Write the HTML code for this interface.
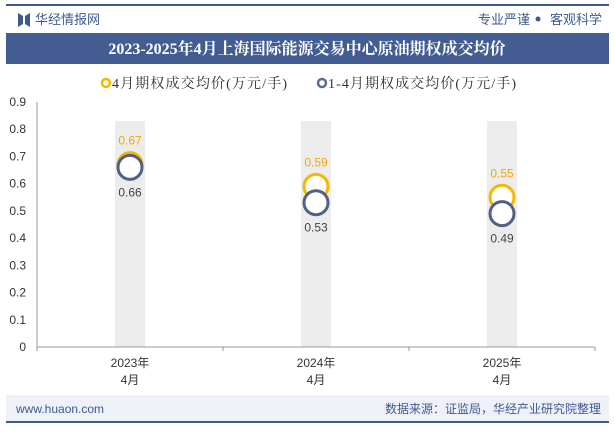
<!DOCTYPE html>
<html><head><meta charset="utf-8"><style>
body{margin:0;width:615px;height:427px;overflow:hidden;background:#fff;font-family:"Liberation Sans","Noto Sans CJK SC",sans-serif;}
</style></head><body>
<svg width="615" height="427" xmlns="http://www.w3.org/2000/svg" id="chart">
<rect x="6" y="4" width="603" height="2" fill="#3f5a8f"/>
<g><path d="M18 13 L23 16 L23 24 L18 27 Z M25 16 L30 13 L30 27 L25 24Z" fill="#3f5a8f"/></g>
<text x="35" y="24" font-size="13" fill="#3f5a8f">华经情报网</text>
<text x="478" y="24" font-size="13" fill="#3f5a8f">专业严谨</text>
<circle cx="538" cy="19" r="2.5" fill="#3f5a8f"/>
<text x="602" y="24" font-size="13" fill="#3f5a8f" text-anchor="end">客观科学</text>
<rect x="6" y="33" width="603" height="31" fill="#435d92"/>
<text x="307" y="54" font-size="16" font-weight="bold" fill="#fff" text-anchor="middle" font-family="Liberation Serif,Noto Serif CJK SC,serif">2023-2025年4月上海国际能源交易中心原油期权成交均价</text>
<g>
<circle cx="106" cy="83" r="4" fill="none" stroke="#f5b800" stroke-width="2.5"/>
<text x="112" y="88" font-size="14" fill="#333" font-family="Liberation Serif,Noto Serif CJK SC,serif" textLength="175">4月期权成交均价(万元/手)</text>
<circle cx="322" cy="83" r="4" fill="none" stroke="#5a6d90" stroke-width="2.5"/>
<text x="328" y="88" font-size="14" fill="#333" font-family="Liberation Serif,Noto Serif CJK SC,serif" textLength="188">1-4月期权成交均价(万元/手)</text>
</g>
<g id="plot"></g>
<rect x="6" y="395" width="603" height="26" fill="#eef1f7"/>
<text x="16" y="413" font-size="12" fill="#3f5a8f">www.huaon.com</text>
<text x="601" y="413" font-size="12" fill="#3f5a8f" text-anchor="end">数据来源：证监局，华经产业研究院整理</text>
<rect x="6" y="421" width="603" height="2" fill="#3f5a8f"/>
</svg>
<script>
const categories=["2023年|4月","2024年|4月","2025年|4月"];
const monthly=[0.67,0.59,0.55];
const ytd=[0.66,0.53,0.49];
const yTicks=[0,0.1,0.2,0.3,0.4,0.5,0.6,0.7,0.8,0.9];
const bgBar=0.83;
const NS="http://www.w3.org/2000/svg";
const g=document.getElementById('plot');
const x0=37,x1=595,yb=347,yt=102;
const y=v=>yb-(v/0.9)*(yb-yt);
const band=(x1-x0)/categories.length;
const xc=i=>x0+band*(i+0.5);
function mk(t,a,txt){const e=document.createElementNS(NS,t);for(const k in a)e.setAttribute(k,a[k]);if(txt!=null)e.textContent=txt;g.appendChild(e);return e;}
yTicks.forEach(v=>{
const t=mk('text',{x:26,y:y(v)+4,'font-size':12,fill:'#333','text-anchor':'end'},String(v));


});
categories.forEach((c,i)=>{
const b=mk('rect',{x:xc(i)-15,y:y(bgBar),width:30,height:yb-y(bgBar),fill:'#ececec'});


});
const ax=mk('line',{x1:x0,y1:yb,x2:x1,y2:yb,stroke:'#999'});


const ay=mk('line',{x1:x0,y1:yt,x2:x0,y2:yb,stroke:'#999'});


for(let i=0;i<=categories.length;i++){mk('line',{x1:x0+band*i,y1:yb,x2:x0+band*i,y2:yb+4,stroke:'#999'});}
categories.forEach((c,i)=>{
const [a,b]=c.split('|');
const t1=mk('text',{x:xc(i),y:367,'font-size':12,fill:'#333','text-anchor':'middle'},a);


const t2=mk('text',{x:xc(i),y:384,'font-size':12,fill:'#333','text-anchor':'middle'},b);


});
monthly.forEach((v,i)=>{
const c=mk('circle',{cx:xc(i),cy:y(v),r:12,fill:'#fff',stroke:'#f5b800','stroke-width':3});


const t=mk('text',{x:xc(i),y:y(v)-20,'font-size':12,fill:'#f5a800','text-anchor':'middle'},v.toFixed(2));


});
ytd.forEach((v,i)=>{
const c=mk('circle',{cx:xc(i),cy:y(v),r:12,fill:'#fff',stroke:'#4f6185','stroke-width':3});


const t=mk('text',{x:xc(i),y:y(v)+29,'font-size':12,fill:'#444','text-anchor':'middle'},v.toFixed(2));


});
</script>
</body></html>
